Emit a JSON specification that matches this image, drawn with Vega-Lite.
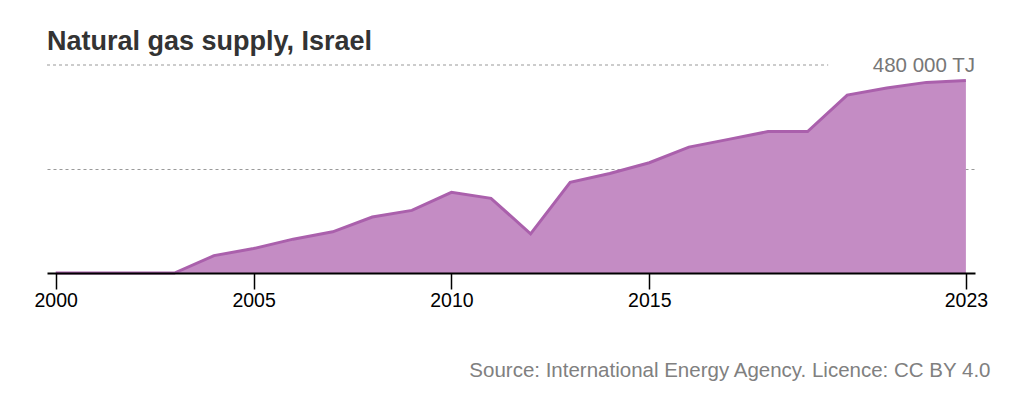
{
  "$schema": "https://vega.github.io/schema/vega-lite/v6.json",
  "autosize": {"type": "none"},
  "width": 928,
  "height": 208,
  "padding": {"left": 47, "top": 65, "right": 49, "bottom": 120},
  "title": {
    "text": "Natural gas supply, Israel",
    "anchor": "start",
    "frame": "group",
    "font": "Liberation Sans",
    "fontSize": 27,
    "fontWeight": "bold",
    "color": "#333333",
    "offset": 0
  },
  "config": {
    "view": {"stroke": null},
    "font": "Liberation Sans"
  },
  "data": {
    "values": [
      {"year": 2000, "supply": 0},
      {"year": 2001, "supply": 0},
      {"year": 2002, "supply": 0},
      {"year": 2003, "supply": 0},
      {"year": 2004, "supply": 40100},
      {"year": 2005, "supply": 56400},
      {"year": 2006, "supply": 78100},
      {"year": 2007, "supply": 95100},
      {"year": 2008, "supply": 129200},
      {"year": 2009, "supply": 144500},
      {"year": 2010, "supply": 186200},
      {"year": 2011, "supply": 172300},
      {"year": 2012, "supply": 90400},
      {"year": 2013, "supply": 209400},
      {"year": 2014, "supply": 229600},
      {"year": 2015, "supply": 254400},
      {"year": 2016, "supply": 290600},
      {"year": 2017, "supply": 308400},
      {"year": 2018, "supply": 326300},
      {"year": 2019, "supply": 326300},
      {"year": 2020, "supply": 410500},
      {"year": 2021, "supply": 426700},
      {"year": 2022, "supply": 439900},
      {"year": 2023, "supply": 444500}
    ]
  },
  "layer": [
    {
      "mark": {
        "type": "area",
        "color": "#c48cc4",
        "opacity": 1,
        "line": {"color": "#aa60ac", "strokeWidth": 3}
      },
      "encoding": {
        "x": {
          "field": "year",
          "type": "quantitative",
          "scale": {"domain": [1999.78, 2023.23], "nice": false, "zero": false},
          "axis": {
            "values": [2000, 2005, 2010, 2015, 2023],
            "format": "d",
            "grid": false,
            "zindex": 1,
            "domainColor": "#000000",
            "domainWidth": 1.8,
            "tickColor": "#000000",
            "tickWidth": 1.5,
            "tickSize": 16,
            "labelFontSize": 19.5,
            "labelColor": "#000000",
            "labelPadding": 2,
            "labelFont": "Liberation Sans",
            "title": "Source: International Energy Agency. Licence: CC BY 4.0",
            "titleFont": "Liberation Sans",
            "titleFontSize": 20.5,
            "titleFontWeight": "normal",
            "titleColor": "#808080",
            "titleAlign": "right",
            "titleBaseline": "alphabetic",
            "titleX": 943,
            "titleY": 103
          }
        },
        "y": {
          "field": "supply",
          "type": "quantitative",
          "scale": {"domain": [0, 480000], "nice": false},
          "axis": {
            "values": [240000],
            "grid": true,
            "gridDash": [3, 3],
            "gridColor": "#9a9a9a",
            "gridWidth": 1.2,
            "domain": false,
            "ticks": false,
            "labels": false,
            "title": null
          }
        }
      }
    },
    {
      "data": {"values": [{}]},
      "mark": {"type": "rule", "stroke": "#9a9a9a", "strokeWidth": 1.2, "strokeDash": [3, 3]},
      "encoding": {
        "y": {"datum": 480000},
        "x": {"datum": 1999.78},
        "x2": {"datum": 2019.52}
      }
    },
    {
      "data": {"values": [{}]},
      "mark": {
        "type": "text",
        "text": "480 000 TJ",
        "align": "right",
        "baseline": "alphabetic",
        "dy": 7,
        "fontSize": 20.5,
        "font": "Liberation Sans",
        "color": "#777777"
      },
      "encoding": {
        "x": {"datum": 2023.23},
        "y": {"datum": 480000}
      }
    }
  ]
}
